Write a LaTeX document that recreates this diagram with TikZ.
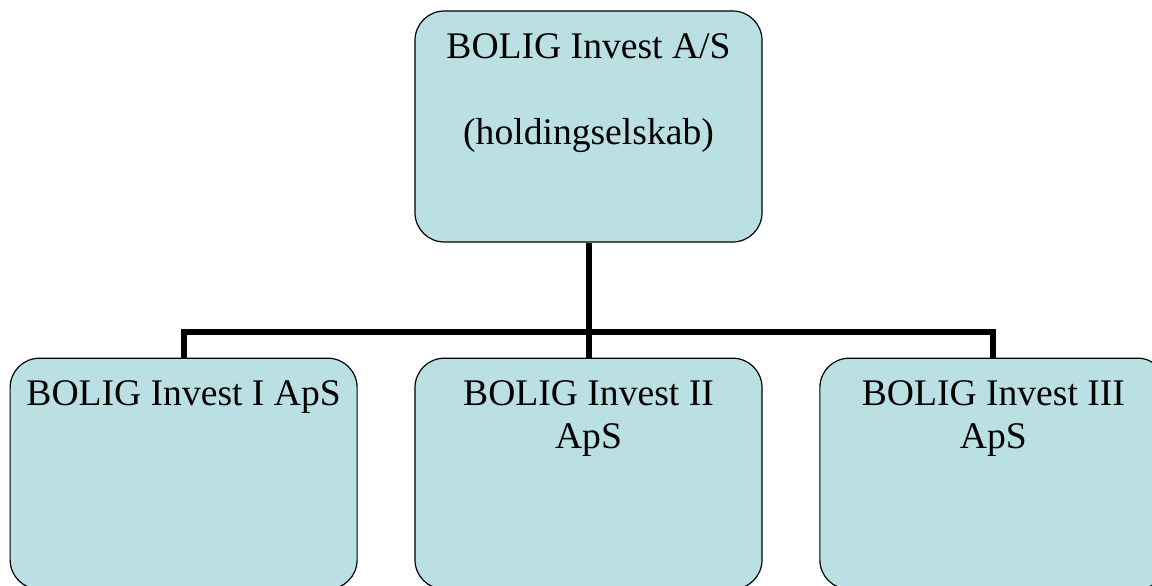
\documentclass[tikz,border=0pt]{standalone}
\usepackage{fontspec}
\setmainfont{Liberation Serif}
\usetikzlibrary{positioning}
\definecolor{boxfill}{RGB}{187,224,227}
\newcommand{\boxtxt}[1]{\parbox[c][173.25pt][t]{258pt}{\centering\vspace*{13pt}\strut #1}}
\tikzset{
  orgbox/.style={draw, rounded corners=22pt, fill=boxfill, line width=0.9pt, inner sep=0pt,
                 minimum width=260.25pt, minimum height=173.25pt,
                 font=\fontsize{28.2}{32.25}\selectfont},
  conn/.style  ={line width=4.5pt, line join=miter},
}
\begin{document}
\begin{tikzpicture}[x=0.75pt, y=-0.75pt, node distance=86.25pt and 42.5pt]
  \useasboundingbox (0,0) rectangle (1152,585);
  \node[orgbox] (hold) at (588.5,126.5) {\boxtxt{BOLIG Invest A/S\\\mbox{}\\(holdingselskab)}};
  \node[orgbox, below=of hold] (sub2) {\boxtxt{BOLIG Invest II\\ApS}};
  \node[orgbox, left=of sub2]  (sub1) {\boxtxt{BOLIG Invest I ApS}};
  \node[orgbox, right=of sub2] (sub3) {\boxtxt{BOLIG Invest III\\ApS}};
  \coordinate (bus) at (588.5,332);
  \draw[conn] (hold.south) -- (bus);
  \draw[conn] (sub1.north) |- (bus) -| (sub3.north);
  \draw[conn] (bus) -- (sub2.north);
\end{tikzpicture}
\end{document}
